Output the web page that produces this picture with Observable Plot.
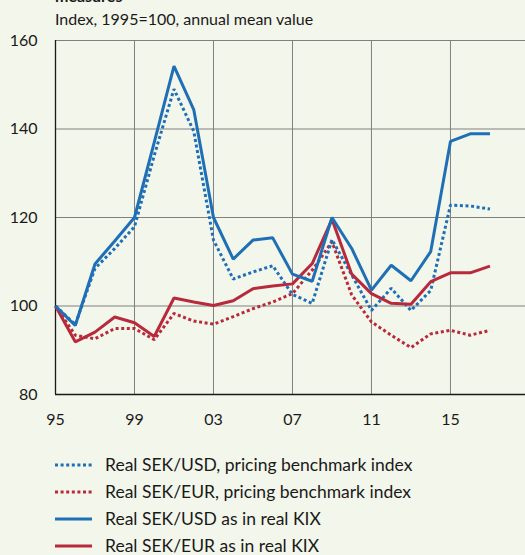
<!DOCTYPE html>
<html>
<head>
<meta charset="utf-8">
<script src="https://cdn.jsdelivr.net/npm/d3@7"></script>
<script src="https://cdn.jsdelivr.net/npm/@observablehq/plot@0.6"></script>
<style>
  html, body { margin: 0; padding: 0; background: #f3f6ea; width: 525px; height: 555px; overflow: hidden; }
  body { position: relative; font-family: "Lato", sans-serif; color: #1a1a1a; }
  .title { position: absolute; left: 55px; top: -12px; font-size: 16px; line-height: 16px; font-weight: bold; white-space: nowrap; }
  .subtitle { position: absolute; left: 55px; top: 11px; font-size: 16px; line-height: 16px; white-space: nowrap; }
  #chart { position: absolute; left: 0; top: 30px; }
  .legend { position: absolute; left: 55px; top: 451px; font-size: 17.5px; }
  .legend .row { display: flex; align-items: center; height: 27px; white-space: nowrap; }
  .legend span { line-height: 18px; }
  .legend svg { margin-right: 13px; }
</style>
</head>
<body>
<div class="title">measures</div>
<div class="subtitle">Index, 1995=100, annual mean value</div>
<div id="chart"></div>
<div class="legend" id="legend"></div>
<script>
const years = [1995,1996,1997,1998,1999,2000,2001,2002,2003,2004,2005,2006,2007,2008,2009,2010,2011,2012,2013,2014,2015,2016,2017];
const usdBenchmark = [100, 95.8, 108.5, 113.0, 117.9, 134.0, 149.0, 139.5, 114.9, 106.1, 107.7, 109.1, 102.6, 100.6, 115.0, 107.0, 99.0, 104.0, 99.0, 103.5, 122.8, 122.6, 121.9];
const eurBenchmark = [100, 93.4, 92.6, 94.9, 94.9, 92.4, 98.3, 96.6, 95.9, 97.6, 99.4, 100.9, 102.8, 108.1, 114.5, 102.5, 96.4, 93.4, 90.6, 93.7, 94.5, 93.4, 94.5];
const usdKix = [100, 95.6, 109.5, 114.7, 120.0, 137.0, 154.2, 144.4, 120.0, 110.6, 114.9, 115.4, 107.2, 105.6, 120.0, 113.0, 103.6, 109.2, 105.7, 112.3, 137.2, 138.9, 138.9];
const eurKix = [100, 91.9, 94.1, 97.5, 96.2, 93.1, 101.8, 100.9, 100.1, 101.2, 103.9, 104.5, 105.0, 109.6, 119.6, 107.2, 102.8, 100.6, 100.4, 105.5, 107.5, 107.5, 109.0];

const xTicks = [1995, 1999, 2003, 2007, 2011, 2015];
const xTickLabels = ["95", "99", "03", "07", "11", "15"];
const yTicks = [80, 100, 120, 140, 160];

const seriesNames = [
  "Real SEK/USD, pricing benchmark index",
  "Real SEK/EUR, pricing benchmark index",
  "Real SEK/USD as in real KIX",
  "Real SEK/EUR as in real KIX"
];
const blue = "#1f6fb6";
const red = "#b82a3b";
const seriesStyles = [
  {color: blue, dash: "3,2.6"},
  {color: red, dash: "3,2.6"},
  {color: blue, dash: null},
  {color: red, dash: null}
];
const seriesValues = [usdBenchmark, eurBenchmark, usdKix, eurKix];

const toRows = vals => years.map((y, i) => ({year: y, value: vals[i]}));
const gridColor = "#808080";

const lineMark = (idx) => Plot.line(toRows(seriesValues[idx]), {
  x: "year", y: "value",
  stroke: seriesStyles[idx].color,
  strokeWidth: 3,
  strokeDasharray: seriesStyles[idx].dash || undefined,
  strokeLinecap: "butt",
  strokeLinejoin: "miter"
});

const chart = Plot.plot({
  width: 525,
  height: 410,
  marginLeft: 55,
  marginRight: 0,
  marginTop: 10,
  marginBottom: 46,
  style: {fontFamily: "Lato, sans-serif", fontSize: "16px", background: "transparent", color: "#1a1a1a", overflow: "visible"},
  x: {domain: [1995, 2018.8]},
  y: {domain: [80, 160]},
  marks: [
    Plot.ruleX(xTicks.slice(1), {stroke: gridColor, strokeWidth: 1, strokeOpacity: 1}),
    Plot.ruleY(yTicks.slice(1), {stroke: gridColor, strokeWidth: 1, strokeOpacity: 1}),
    Plot.ruleX([1995], {stroke: "#1a1a1a", strokeWidth: 1.3}),
    Plot.ruleY([80], {stroke: "#1a1a1a", strokeWidth: 1.3}),
    lineMark(1),
    lineMark(0),
    lineMark(3),
    lineMark(2),
    Plot.axisY({ticks: yTicks, tickSize: 0, tickPadding: 18, label: null, fontSize: 16}),
    Plot.axisX({ticks: xTicks, tickFormat: (d) => xTickLabels[xTicks.indexOf(d)], tickSize: 0, tickPadding: 19, label: null, fontSize: 16})
  ]
});
document.getElementById("chart").appendChild(chart);

const legend = document.getElementById("legend");
seriesNames.forEach((name, i) => {
  const row = document.createElement("div");
  row.className = "row";
  const st = seriesStyles[i];
  row.innerHTML = `<svg width="37" height="6"><line x1="0" x2="37" y1="3" y2="3" stroke="${st.color}" stroke-width="3" ${st.dash ? `stroke-dasharray="${st.dash}"` : ""}/></svg><span>${name}</span>`;
  legend.appendChild(row);
});
</script>
</body>
</html>
